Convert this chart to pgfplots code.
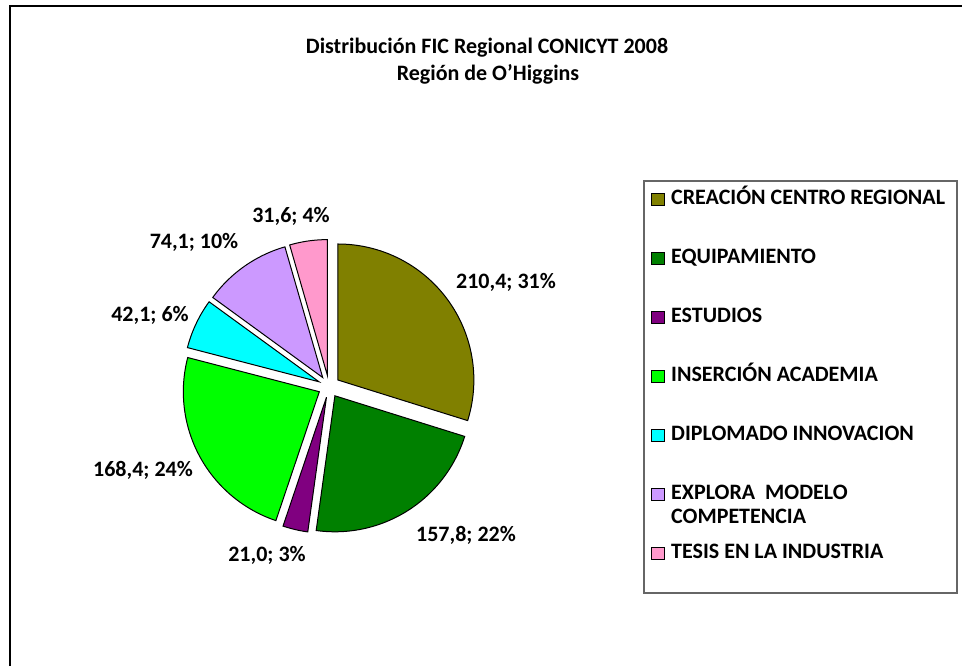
\documentclass[border=0pt]{standalone}
\usepackage{pgfplots}
\pgfplotsset{compat=1.18}
\usepackage{pgfplotstable}
\usepackage{fontspec}
\setmainfont{Carlito}

\definecolor{cOlive}{HTML}{808000}
\definecolor{cGreen}{HTML}{008000}
\definecolor{cPurple}{HTML}{800080}
\definecolor{cLime}{HTML}{00FF00}
\definecolor{cCyan}{HTML}{00FFFF}
\definecolor{cLav}{HTML}{CC99FF}
\definecolor{cPink}{HTML}{FF99CC}

\pgfplotstableread{
value
210.4
157.8
21.0
168.4
42.1
74.1
31.6
}\piedata

\newcommand\getv[2]{\pgfplotstablegetelem{#1}{value}\of\piedata\edef#2{\pgfplotsretval}}
\getv{0}\vA \getv{1}\vB \getv{2}\vC \getv{3}\vD \getv{4}\vE \getv{5}\vF \getv{6}\vG
\pgfmathsetmacro\total{\vA+\vB+\vC+\vD+\vE+\vF+\vG}
\pgfmathsetmacro\aA{90}
\pgfmathsetmacro\aB{\aA-(\vA/\total)*360}
\pgfmathsetmacro\aC{\aB-(\vB/\total)*360}
\pgfmathsetmacro\aD{\aC-(\vC/\total)*360}
\pgfmathsetmacro\aE{\aD-(\vD/\total)*360}
\pgfmathsetmacro\aF{\aE-(\vE/\total)*360}
\pgfmathsetmacro\aG{\aF-(\vF/\total)*360}
\pgfmathsetmacro\aH{\aG-(\vG/\total)*360}

\def\cx{329}
\def\cy{279.5}
\def\rr{136}
\def\ex{11}

\newcommand\slice[3]{%
  \pgfmathsetmacro\midang{(#2+#3)/2}%
  \pgfmathsetmacro\ox{\cx+\ex*cos(\midang)}%
  \pgfmathsetmacro\oy{\cy+\ex*sin(\midang)}%
  \edef\doslice{\noexpand\addplot[draw=black, line width=0.5pt, fill=#1, domain=#2:#3, samples=90]
    ({\ox+\rr*cos(x)}, {\oy+\rr*sin(x)}) -- (axis cs:\ox,\oy) -- cycle;}%
  \doslice}

\begin{document}
\fontsize{11}{13}\selectfont
\begin{tikzpicture}
\begin{axis}[
  width=481pt, height=333pt, scale only axis,
  xmin=0, xmax=962, ymin=0, ymax=666,
  hide axis, clip=false,
  legend image code/.code={\draw[#1, draw=black, line width=0.5pt] (0pt,-3.2pt) rectangle (6.4pt,3.2pt);},
  legend style={at={(axis cs:645,480)}, anchor=north west, draw=none, fill=none,
    font=\fontsize{11}{13}\selectfont\bfseries, row sep=20.5pt,
    nodes={text height=7pt, text depth=2pt, inner xsep=3pt, inner ysep=0pt}},
  legend cell align=left,
  legend entries={CREACIÓN CENTRO REGIONAL, EQUIPAMIENTO, ESTUDIOS, INSERCIÓN ACADEMIA, DIPLOMADO INNOVACION,
    {\begin{tabular}[t]{@{}l@{}}EXPLORA\ \ MODELO\\[-1pt] COMPETENCIA\end{tabular}}, TESIS EN LA INDUSTRIA},
]
\slice{cOlive}{\aB}{\aA}
\slice{cGreen}{\aC}{\aB}
\slice{cPurple}{\aD}{\aC}
\slice{cLime}{\aE}{\aD}
\slice{cCyan}{\aF}{\aE}
\slice{cLav}{\aG}{\aF}
\slice{cPink}{\aH}{\aG}

% frame
\draw[line width=1pt] (axis cs:10,0) -- (axis cs:10,660) -- (axis cs:962,660);
\draw[black!60, line width=0.6pt] (axis cs:644,73) rectangle (axis cs:957,485);

% title
\node[font=\fontsize{11}{13}\selectfont\bfseries, anchor=base] at (axis cs:487,613) {Distribución FIC Regional CONICYT 2008};
\node[font=\fontsize{11}{13}\selectfont\bfseries, anchor=base] at (axis cs:488,586) {Región de O’Higgins};

% data labels
\tikzset{lbl/.style={font=\fontsize{11}{13}\selectfont\bfseries}}
\node[lbl] at (axis cs:506,384) {210,4; 31\%};
\node[lbl] at (axis cs:466,131) {157,8; 22\%};
\node[lbl] at (axis cs:267,111) {21,0; 3\%};
\node[lbl] at (axis cs:143,196) {168,4; 24\%};
\node[lbl] at (axis cs:150,351) {42,1; 6\%};
\node[lbl] at (axis cs:194,424) {74,1; 10\%};
\node[lbl] at (axis cs:291,450) {31,6; 4\%};
\end{axis}
\pgfresetboundingbox
\path (current axis.south west) rectangle (current axis.north east);
\end{tikzpicture}
\end{document}
